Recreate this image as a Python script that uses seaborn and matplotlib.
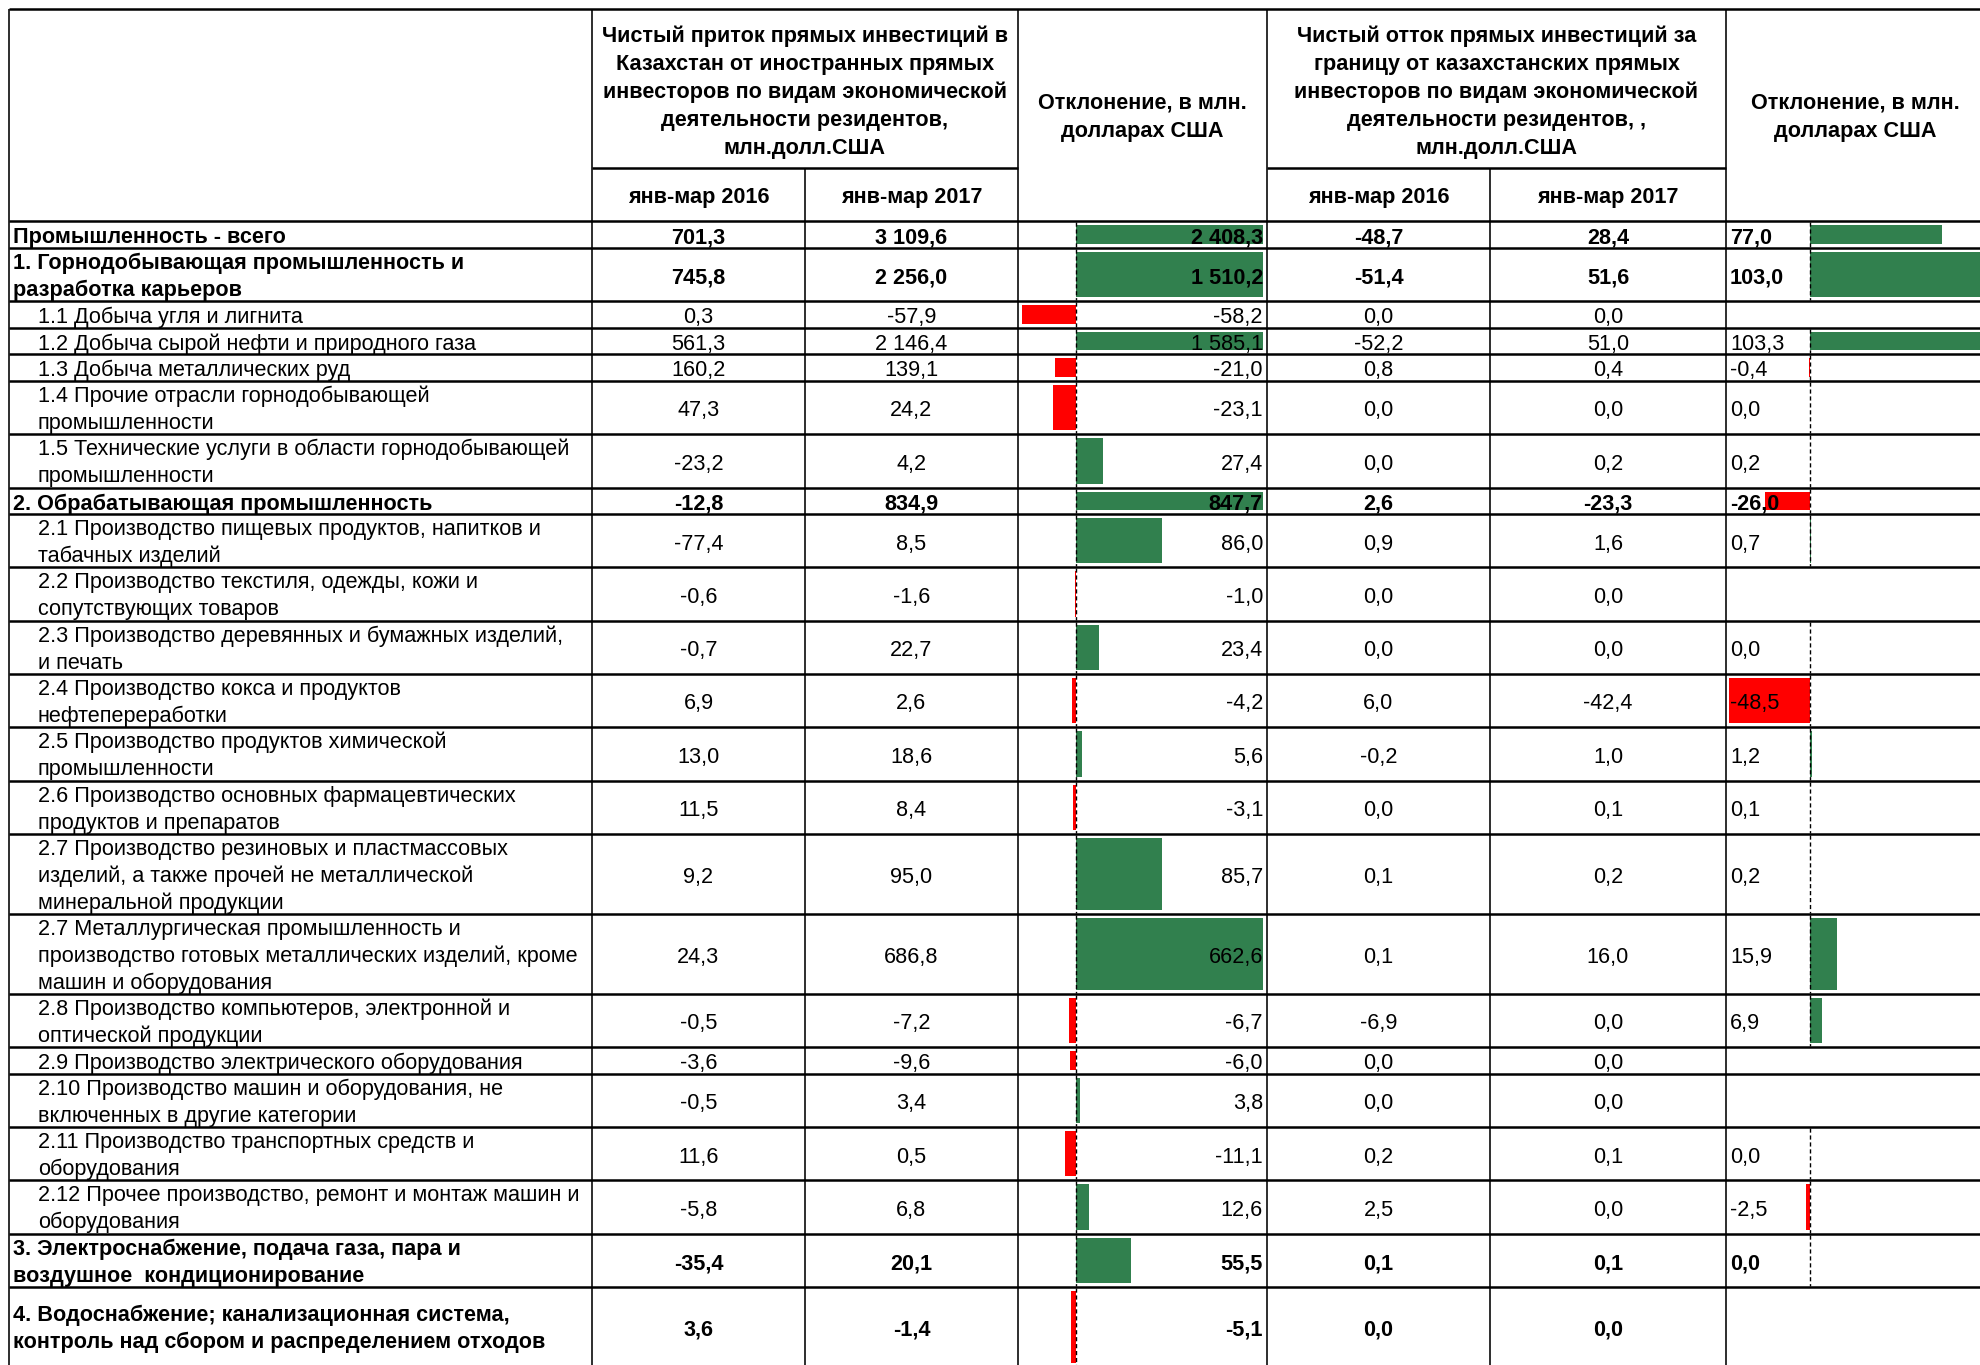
import numpy as np
import matplotlib
matplotlib.use("Agg")
import matplotlib.pyplot as plt
import seaborn as sns

# --- table data (values in млн. долл. США) ---
labels = [
    "Промышленность - всего",
    "1. Горнодобывающая промышленность и\nразработка карьеров",
    "1.1 Добыча угля и лигнита",
    "1.2 Добыча сырой нефти и природного газа",
    "1.3 Добыча металлических руд",
    "1.4 Прочие отрасли горнодобывающей\nпромышленности",
    "1.5 Технические услуги в области горнодобывающей\nпромышленности",
    "2. Обрабатывающая промышленность",
    "2.1 Производство пищевых продуктов, напитков и\nтабачных изделий",
    "2.2 Производство текстиля, одежды, кожи и\nсопутствующих товаров",
    "2.3 Производство деревянных и бумажных изделий,\nи печать",
    "2.4 Производство кокса и продуктов\nнефтепереработки",
    "2.5 Производство продуктов химической\nпромышленности",
    "2.6 Производство основных фармацевтических\nпродуктов и препаратов",
    "2.7 Производство резиновых и пластмассовых\nизделий, а также прочей не металлической\nминеральной продукции",
    "2.7 Металлургическая промышленность и\nпроизводство готовых металлических изделий, кроме\nмашин и оборудования",
    "2.8 Производство компьютеров, электронной и\nоптической продукции",
    "2.9 Производство электрического оборудования",
    "2.10 Производство машин и оборудования, не\nвключенных в другие категории",
    "2.11 Производство транспортных средств и\nоборудования",
    "2.12 Прочее производство, ремонт и монтаж машин и\nоборудования",
    "3. Электроснабжение, подача газа, пара и\nвоздушное  кондиционирование",
    "4. Водоснабжение; канализационная система,\nконтроль над сбором и распределением отходов",
]
bold_rows = [0, 1, 7, 21, 22]
row_lines = [1, 2, 1, 1, 1, 2, 2, 1, 2, 2, 2, 2, 2, 2, 3, 3, 2, 1, 2, 2, 2, 2, 3]

inflow_2016 = [701.3, 745.8, 0.3, 561.3, 160.2, 47.3, -23.2, -12.8, -77.4, -0.6, -0.7,
               6.9, 13.0, 11.5, 9.2, 24.3, -0.5, -3.6, -0.5, 11.6, -5.8, -35.4, 3.6]
inflow_2017 = [3109.6, 2256.0, -57.9, 2146.4, 139.1, 24.2, 4.2, 834.9, 8.5, -1.6, 22.7,
               2.6, 18.6, 8.4, 95.0, 686.8, -7.2, -9.6, 3.4, 0.5, 6.8, 20.1, -1.4]
inflow_dev = [2408.3, 1510.2, -58.2, 1585.1, -21.0, -23.1, 27.4, 847.7, 86.0, -1.0, 23.4,
              -4.2, 5.6, -3.1, 85.7, 662.6, -6.7, -6.0, 3.8, -11.1, 12.6, 55.5, -5.1]
outflow_2016 = [-48.7, -51.4, 0.0, -52.2, 0.8, 0.0, 0.0, 2.6, 0.9, 0.0, 0.0,
                6.0, -0.2, 0.0, 0.1, 0.1, -6.9, 0.0, 0.0, 0.2, 2.5, 0.1, 0.0]
outflow_2017 = [28.4, 51.6, 0.0, 51.0, 0.4, 0.0, 0.2, -23.3, 1.6, 0.0, 0.0,
                -42.4, 1.0, 0.1, 0.2, 16.0, 0.0, 0.0, 0.0, 0.1, 0.0, 0.1, 0.0]
outflow_dev = [77.0, 103.0, None, 103.3, -0.4, 0.0, 0.2, -26.0, 0.7, None, 0.0,
               -48.5, 1.2, 0.1, 0.2, 15.9, 6.9, None, None, 0.0, -2.5, 0.0, None]

head_inflow = ["Чистый приток прямых инвестиций в", "Казахстан от иностранных прямых",
               "инвесторов по видам экономической", "деятельности резидентов,", "млн.долл.США"]
head_outflow = ["Чистый отток прямых инвестиций за", "границу от казахстанских прямых",
                "инвесторов по видам экономической", "деятельности резидентов, ,", "млн.долл.США"]
head_dev = ["Отклонение, в млн.", "долларах США"]
periods = ["янв-мар 2016", "янв-мар 2017"]

GREEN, RED = "#31804E", "#FF0000"

sns.set_theme(style="white")
plt.rcParams['font.family'] = ['Liberation Sans', 'DejaVu Sans']

W, H = 1981, 1365
fig = plt.figure(figsize=(W / 100, H / 100), dpi=100)

# layout in pixels
cols = [9.5, 592, 805, 1018, 1267, 1490, 1726, 1984]
top, mid, head_bot = 9, 168, 221
unit = 26.65
edges = head_bot + unit * np.concatenate([[0], np.cumsum(row_lines)])
centers = (edges[:-1] + edges[1:]) / 2
heights = np.diff(edges)

fs = 15.6
cap = 0.716 * fs * 100 / 72


def fmt(v):
    s = f"{abs(v):,.1f}".replace(",", " ").replace(".", ",")
    return "-" + s if v < 0 else s


def bar_column(x0, x1, lo, hi, values):
    a = fig.add_axes([x0 / W, 1 - edges[-1] / H, (x1 - x0) / W, (edges[-1] - head_bot) / H], zorder=1)
    a.set_xlim(lo, hi)
    a.set_ylim(edges[-1], head_bot)
    a.axis('off')
    idx = [i for i, v in enumerate(values) if v is not None]
    vals = np.array([values[i] for i in idx])
    a.barh(centers[idx], vals, height=heights[idx] - 8, left=0,
           color=[GREEN if v >= 0 else RED for v in vals], linewidth=0)
    for i in idx:
        a.plot([0, 0], [edges[i] + 1, edges[i + 1] - 1], color='black', lw=1, ls=(0, (3, 2)))
    return a


# data bars: 1 px per unit in the first, ~1.72 px per unit in the second
bar_column(1022, 1263, -54, 187, inflow_dev)
bar_column(1729, 1981, -47, 99.5, outflow_dev)

ax = fig.add_axes([0, 0, 1, 1], zorder=2)
ax.set_xlim(0, W)
ax.set_ylim(H, 0)
ax.axis('off')

# grid
ax.hlines([top] + list(edges), cols[0], W, color='black', lw=1.8)
ax.hlines(mid, cols[1], cols[3], color='black', lw=1.8)
ax.hlines(mid, cols[4], cols[6], color='black', lw=1.8)
ax.vlines([cols[0], cols[1], cols[3], cols[4], cols[6]], top, edges[-1], color='black', lw=1.15)
ax.vlines([cols[2], cols[5]], mid, edges[-1], color='black', lw=1.15)


def put(x, yc, lines, ha, bold, step=27.0):
    n = len(lines)
    for k, t in enumerate(lines):
        y = yc + (k - (n - 1) / 2) * step + cap / 2
        ax.text(x, y, t, ha=ha, va='baseline', fontsize=fs,
                fontweight='bold' if bold else 'normal', color='black')


# header
put((cols[1] + cols[3]) / 2, (top + mid) / 2 + 2, head_inflow, 'center', True, 28)
put((cols[4] + cols[6]) / 2, (top + mid) / 2 + 2, head_outflow, 'center', True, 28)
put((cols[3] + cols[4]) / 2, (top + head_bot) / 2, head_dev, 'center', True, 28)
put((cols[6] + cols[7]) / 2, (top + head_bot) / 2, head_dev, 'center', True, 28)
for c in (1, 2, 4, 5):
    put((cols[c] + cols[c + 1]) / 2, (mid + head_bot) / 2 + 1, [periods[c % 3 - 1]], 'center', True)

# body
for i in range(len(labels)):
    b = i in bold_rows
    yc = centers[i] + 1
    put(13 if b else 38, yc - (1 if row_lines[i] > 1 else 0), labels[i].split("\n"), 'left', b)
    put((cols[1] + cols[2]) / 2, yc, [fmt(inflow_2016[i])], 'center', b)
    put((cols[2] + cols[3]) / 2, yc, [fmt(inflow_2017[i])], 'center', b)
    put(1263, yc, [fmt(inflow_dev[i])], 'right', b)
    put((cols[4] + cols[5]) / 2, yc, [fmt(outflow_2016[i])], 'center', b)
    put((cols[5] + cols[6]) / 2, yc, [fmt(outflow_2017[i])], 'center', b)
    if outflow_dev[i] is not None:
        put(1730, yc, [fmt(outflow_dev[i])], 'left', b)

fig.savefig("out.png", dpi=100, facecolor='white')
